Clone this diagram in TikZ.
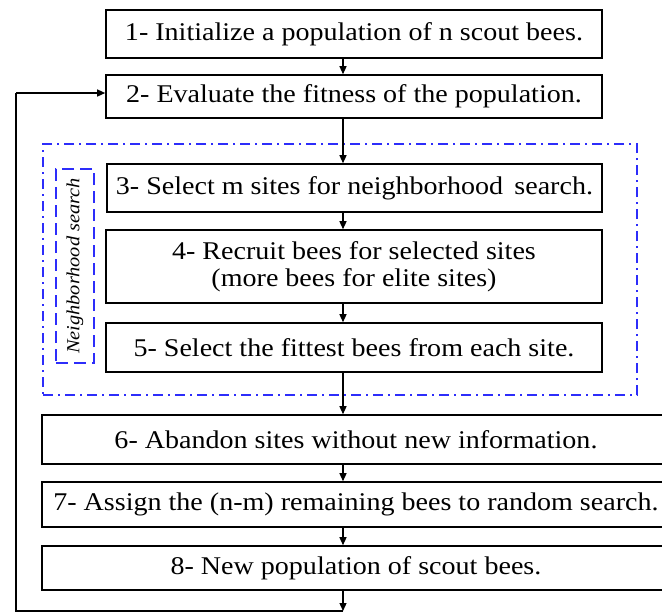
\documentclass[tikz,border=0pt]{standalone}
\usepackage{fontspec}
\setmainfont[FakeStretch=1.1]{Liberation Serif}
\usetikzlibrary{arrows.meta}
\definecolor{dblue}{RGB}{45,45,250}
\tikzset{
  box/.style={draw=black, line width=1.6pt, inner sep=0pt, align=center,
    font=\fontsize{25.5}{27}\selectfont},
  arr/.style={line width=1.3pt, -{Triangle[length=8pt,width=7pt]}},
  loopline/.style={line width=1.3pt},
  outerdash/.style={draw=dblue, line width=1.8pt, dash pattern=on 10pt off 5pt on 2pt off 5pt},
  innerdash/.style={draw=dblue, line width=2pt, dash pattern=on 12pt off 6pt},
}
\begin{document}
\begin{tikzpicture}[x=1pt,y=-1pt]
\clip (0,0) rectangle (662,614);
\fill[white] (0,0) rectangle (662,614);
% boxes
\node[box, minimum width=496pt, minimum height=48pt] (b1) at (354,34) {1- Initialize a population of n scout bees.};
\node[box, minimum width=496pt, minimum height=43pt] (b2) at (354,96.5) {2- Evaluate the fitness of the population.};
\node[box, minimum width=495pt, minimum height=48pt] (b3) at (354.5,188) {3- Select m sites for neighborhood\ \,search.};
\node[box, minimum width=496pt, minimum height=73pt] (b4) at (354,266.5) {4- Recruit bees for selected sites\\(more bees for elite sites)};
\node[box, minimum width=496pt, minimum height=49pt] (b5) at (354,347.5) {5- Select the fittest bees from each site.};
\node[box, minimum width=628pt, minimum height=49pt] (b6) at (356,439.5) {6- Abandon sites without new information.};
\node[box, minimum width=628pt, minimum height=45pt] (b7) at (356,504.5) {7- Assign the (n-m) remaining bees to random search.};
\node[box, minimum width=628pt, minimum height=44pt] (b8) at (356,568) {8- New population of scout bees.};
% dashed groups
\node[outerdash, minimum width=594pt, minimum height=251pt, inner sep=0pt] (grp) at (340,269.5) {};
\node[innerdash, minimum width=38pt, minimum height=194pt, inner sep=0pt] (ns) at (75,266) {};
\node[rotate=90, font=\fontsize{18.5}{20}\selectfont\itshape] (nslabel) at (ns.center) {Neighborhood search};
% arrows
\coordinate (ax) at (343,0);
\coordinate (bot) at (343,611);
\coordinate (lft) at (16,0);
\draw[arr] (b1.south -| ax) -- (b2.north -| ax);
\draw[arr] (b2.south -| ax) -- (b3.north -| ax);
\draw[arr] (b3.south -| ax) -- (b4.north -| ax);
\draw[arr] (b4.south -| ax) -- (b5.north -| ax);
\draw[arr] (b5.south -| ax) -- (b6.north -| ax);
\draw[arr] (b6.south -| ax) -- (b7.north -| ax);
\draw[arr] (b7.south -| ax) -- (b8.north -| ax);
\draw[arr] (b8.south -| ax) -- (bot);
\draw[loopline] (bot) -- (bot -| lft) -- (lft |- 0,93);
\draw[arr] (lft |- 0,93) -- (b2.west |- 0,93);
\end{tikzpicture}
\end{document}
